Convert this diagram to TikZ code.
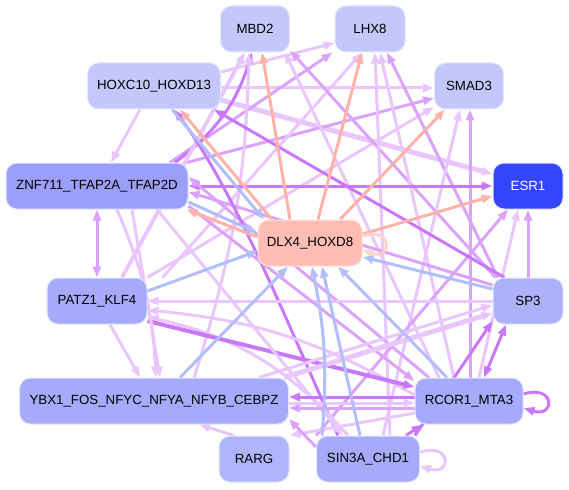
\documentclass[tikz,border=0pt]{standalone}
\usepackage{fontspec}
\setmainfont{Liberation Sans}
\usetikzlibrary{arrows.meta}
\pgfdeclarelayer{edges}
\pgfsetlayers{edges,main}
% node fills
\definecolor{nodepale}{HTML}{C3C7FC}
\definecolor{nodemid}{HTML}{A5ABFA}
\definecolor{nodedeep}{HTML}{9AA0F9}
\definecolor{nodeblue}{HTML}{3446FB}
\definecolor{nodesalmon}{HTML}{FFBDB6}
\definecolor{rim}{HTML}{E4E6FE}
\definecolor{rimsalmon}{HTML}{FFE2DE}
% edge colours
\definecolor{elight}{HTML}{E9C6FD}
\definecolor{emid}{HTML}{DBA3FC}
\definecolor{edark}{HTML}{C978FA}
\definecolor{esalmon}{HTML}{FFB2A8}
\definecolor{eblue}{HTML}{B3BEFC}
\begin{document}
\begin{tikzpicture}[x=1pt,y=-1pt,
  gn/.style={rectangle, rounded corners=11pt, draw=rim, line width=1pt,
    minimum height=46pt, inner sep=0pt, font=\fontsize{13.3}{16}\selectfont, text=black},
  tip/.style={-{Triangle[length=11pt,width=8pt]}},
  lt/.style={draw=elight, line width=3pt, tip},
  md/.style={draw=emid, line width=3pt, tip},
  dk/.style={draw=edark, line width=3pt, tip},
  sa/.style={draw=esalmon, line width=3pt, tip},
  bl/.style={draw=eblue, line width=3pt, tip},
  both/.style={{Triangle[length=11pt,width=8pt]}-{Triangle[length=11pt,width=8pt]}}
]
\useasboundingbox (0,0) rectangle (569,489);

% ---- nodes ----
\node[gn, fill=nodepale, minimum width=69pt] (mbd) at (255,29) {MBD2};
\node[gn, fill=nodepale, minimum width=70pt] (lhx) at (370,29) {LHX8};
\node[gn, fill=nodepale, minimum width=133pt] (hox) at (154,86) {HOXC10\_HOXD13};
\node[gn, fill=nodepale, minimum width=69pt] (smad) at (469,86) {SMAD3};
\node[gn, fill=nodedeep, minimum width=182pt] (znf) at (97,186) {ZNF711\_TFAP2A\_TFAP2D};
\node[gn, fill=nodeblue, text=white, minimum width=70pt] (esr) at (528,186) {ESR1};
\node[gn, fill=nodesalmon, draw=rimsalmon, minimum width=104pt] (dlx) at (310,243) {DLX4\_HOXD8};
\node[gn, fill=nodemid, minimum width=100pt] (patz) at (97,301) {PATZ1\_KLF4};
\node[gn, fill=nodemid!92!white, minimum width=70pt] (sp) at (528,301) {SP3};
\node[gn, fill=nodemid, minimum width=269pt] (ybx) at (154,401) {YBX1\_FOS\_NFYC\_NFYA\_NFYB\_CEBPZ};
\node[gn, fill=nodemid, minimum width=108pt] (rcor) at (469,401) {RCOR1\_MTA3};
\node[gn, fill=nodemid!88!white, minimum width=70pt] (rarg) at (254,459) {RARG};
\node[gn, fill=nodemid, minimum width=103pt] (sin) at (368,459) {SIN3A\_CHD1};

\begin{pgfonlayer}{edges}
% ---- lavender edges ----
\draw[lt] ([shift={(0,-14)}]hox.east) -- ([shift={(0,14)}]lhx.west);
\draw[lt] ([shift={(0,2)}]hox.east) -- ([shift={(0,2)}]smad.west);
\draw[lt, line width=5pt] ([shift={(0,14)}]hox.east) -- ([shift={(0,-12)}]esr.west);
\draw[lt] ([shift={(-14,0)}]hox.south) -- ([shift={(14,0)}]znf.north);
\draw[md] ([shift={(73,0)}]znf.north) -- ([shift={(-2,0)}]lhx.south west);
\draw[md] ([shift={(90,0)}]znf.north) -- ([shift={(0,12)}]smad.west);
\draw[lt] (patz.north east) -- ([shift={(0,21)}]smad.west);
\draw[lt] ([shift={(15,0)}]patz.north east) -- ([shift={(-8,0)}]lhx.south);
\draw[dk] ([shift={(78,0)}]znf.north) to[bend right=18] ([shift={(-3,0)}]mbd.south);
\draw[lt, line width=4pt] ([shift={(25,0)}]patz.north) -- ([shift={(-10,0)}]mbd.south);
\draw[lt] ([shift={(40,0)}]ybx.north) to[bend right=8] ([shift={(-6,0)}]mbd.south);
\draw[md] ([shift={(3,0)}]sp.north west) -- ([shift={(0,-2)}]mbd.south east);
\draw[lt] ([shift={(-30,0)}]rcor.north) -- ([shift={(-5,0)}]mbd.south east);
\draw[lt] ([shift={(22,0)}]sin.north) -- ([shift={(5,0)}]lhx.south);
\draw[md] ([shift={(-30,0)}]sp.north) -- ([shift={(17,0)}]lhx.south);
\draw[lt] ([shift={(-15,0)}]rcor.north) -- ([shift={(10,0)}]lhx.south);
\draw[lt] ([shift={(15,0)}]sin.north) -- ([shift={(-9,0)}]smad.south);
\draw[md] ([shift={(1,0)}]rcor.north) -- ([shift={(1,0)}]smad.south);
\draw[md] (sp.north) -- (esr.south);
\draw[md] (sin.north west) -- ([shift={(-20,0)}]esr.south);
\draw[lt] ([shift={(10,0)}]rcor.north) -- ([shift={(-10,0)}]esr.south);
\draw[dk, both] (znf.east) -- (esr.west);
\draw[md] ([shift={(0,-16)}]sp.west) -- ([shift={(0,6)}]znf.east);
\draw[md] ([shift={(-40,0)}]rcor.north) -- ([shift={(0,-9)}]znf.east);
\draw[md, both] (znf.south) -- (patz.north);
\draw[dk] ([shift={(12,0)}]sp.north west) -- ([shift={(60,0)}]hox.south);
\draw[dk] ([shift={(-30,0)}]sin.north) .. controls (290,330) and (235,190) .. ([shift={(20,0)}]hox.south);
\draw[lt] (sp.west) -- (patz.east);
\draw[lt] ([shift={(0,-6)}]rcor.west) to[bend right=12] ([shift={(0,9)}]patz.east);
\draw[lt] ([shift={(-20,0)}]sin.north) to[bend right=18] ([shift={(0,16)}]patz.east);
\draw[dk, line width=4pt] ([shift={(0,20)}]patz.east) -- ([shift={(0,-14)}]rcor.west);
\draw[lt] ([shift={(13,0)}]patz.south) -- ([shift={(-14,0)}]ybx.north);
\draw[lt] ([shift={(35,0)}]znf.south) -- ([shift={(6,0)}]ybx.north);
\draw[lt] ([shift={(20,0)}]znf.south) to[bend left=10] ([shift={(2,0)}]ybx.north);
\draw[md] ([shift={(0,20)}]znf.east) -- ([shift={(0,-20)}]rcor.west);
\draw[lt] ([shift={(60,0)}]znf.south) -- ([shift={(-25,0)}]sin.north);
\draw[lt, line width=5pt] ([shift={(-5,0)}]ybx.north east) -- ([shift={(0,12)}]sp.west);
\draw[lt] ([shift={(-30,0)}]ybx.north east) -- ([shift={(0,4)}]sp.west);
\draw[dk] ([shift={(-5,0)}]sin.north east) -- ([shift={(0,20)}]sp.west);
\draw[dk, both] ([shift={(15,0)}]rcor.north) -- ([shift={(-22,0)}]sp.south);
\draw[dk] ([shift={(0,-7)}]rcor.east) .. controls +(32,-10) and +(32,10) .. ([shift={(0,7)}]rcor.east);
\draw[lt] ([shift={(0,-7)}]sin.east) .. controls +(32,-10) and +(32,10) .. ([shift={(0,7)}]sin.east);
\draw[dk] ([shift={(-14,0)}]sin.north east) -- ([shift={(8,0)}]rcor.south west);
\draw[dk] ([shift={(0,-4)}]rcor.west) -- ([shift={(0,-4)}]ybx.east);
\draw[md] ([shift={(0,7)}]rcor.west) -- ([shift={(0,7)}]ybx.east);
\draw[lt] ([shift={(0,2)}]ybx.east) -- ([shift={(0,2)}]rcor.west);
\draw[lt] ([shift={(-20,0)}]rarg.north) -- ([shift={(45,0)}]ybx.south);
\draw[lt] ([shift={(0,12)}]rcor.west) -- (rarg.north east);
\draw[md] ([shift={(0,-12)}]sin.west) -- ([shift={(0,18)}]ybx.east);

% ---- edges from DLX4_HOXD8 ----
\draw[sa] ([shift={(-20,0)}]dlx.north) -- ([shift={(7,0)}]mbd.south);
\draw[sa] ([shift={(8,0)}]dlx.north) -- ([shift={(-8,0)}]lhx.south);
\draw[sa] ([shift={(30,0)}]dlx.north) -- ([shift={(-24,0)}]smad.south);
\draw[sa] ([shift={(0,-9)}]dlx.east) -- ([shift={(0,10)}]esr.west);
\draw[sa] ([shift={(0,-6)}]dlx.west) -- ([shift={(-2,0)}]znf.south east);
\draw[sa] ([shift={(-38,0)}]dlx.north) -- ([shift={(26,0)}]hox.south);
\draw[sa, draw=esalmon!60!white] ([shift={(0,-7)}]dlx.east) .. controls +(30,-10) and +(30,10) .. ([shift={(0,7)}]dlx.east);

% ---- edges into DLX4_HOXD8 ----
\draw[bl] ([shift={(0,-12)}]sp.west) -- ([shift={(0,14)}]dlx.east);
\draw[bl] ([shift={(-22,0)}]rcor.north) -- ([shift={(28,0)}]dlx.south);
\draw[bl] ([shift={(-8,0)}]sin.north) -- ([shift={(12,0)}]dlx.south);
\draw[bl] ([shift={(6,0)}]sin.north west) to[bend right=8] ([shift={(2,0)}]dlx.south);
\draw[bl] ([shift={(26,0)}]ybx.north) -- ([shift={(-22,0)}]dlx.south);
\draw[bl] ([shift={(0,-10)}]patz.east) -- ([shift={(0,8)}]dlx.west);
\draw[bl] ([shift={(0,16)}]znf.east) -- ([shift={(0,-10)}]dlx.west);
\draw[bl] ([shift={(18,0)}]hox.south) -- ([shift={(-46,0)}]dlx.north);
\end{pgfonlayer}
\end{tikzpicture}
\end{document}
